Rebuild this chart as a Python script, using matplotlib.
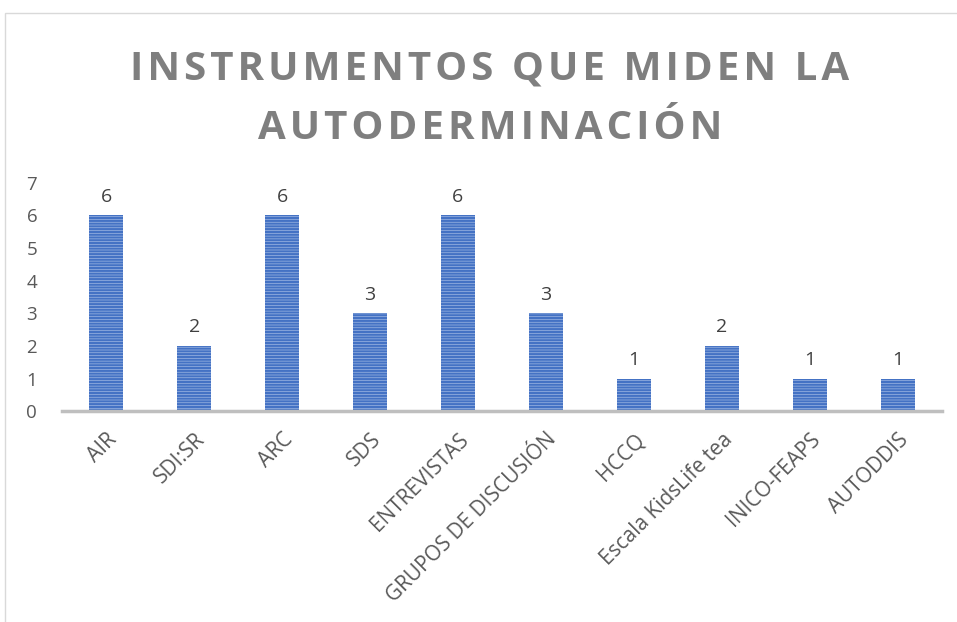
import matplotlib.pyplot as plt
from matplotlib.patches import Rectangle

# Data
categorias = ['AIR', 'SDI:SR', 'ARC', 'SDS', 'ENTREVISTAS', 'GRUPOS DE DISCUSIÓN',
              'HCCQ', 'Escala KidsLife tea', 'INICO-FEAPS', 'AUTODDIS']
valores = [6, 2, 6, 3, 6, 3, 1, 2, 1, 1]
yticks = [0, 1, 2, 3, 4, 5, 6, 7]
titulo = ['INSTRUMENTOS QUE MIDEN LA', 'AUTODERMINACIÓN']

plt.rcParams['font.family'] = ['Open Sans', 'DejaVu Sans']
plt.rcParams['hatch.linewidth'] = 1.6

fig = plt.figure(figsize=(9.57, 6.22), dpi=100)
ax = fig.add_axes([0.065, 0.339, 0.919, 0.367])

# chart border
fig.patches.append(Rectangle((5 / 957, -0.1), 2, (622 - 13) / 622 + 0.1,
                             transform=fig.transFigure, fill=False,
                             edgecolor='#d9d9d9', lw=1))

x = range(len(categorias))
bars = ax.bar(x, valores, width=0.39, color='#b4c7ea', edgecolor='#4472c4',
              hatch='------', linewidth=0)

for xi, v in zip(x, valores):
    ax.text(xi, v + 0.3, str(v), ha='center', va='bottom', fontsize=14, color='#404040')

ax.set_xlim(-0.5, len(categorias) - 0.5)
ax.set_ylim(0, 7)
ax.set_yticks(yticks)
ax.set_yticklabels([str(t) for t in yticks], fontsize=13.5, color='#595959')
ax.set_xticks(list(x))
ax.set_xticklabels(categorias, rotation=45, ha='right', rotation_mode='anchor',
                   fontsize=15, color='#595959')
ax.tick_params(length=0)
ax.tick_params(axis='y', pad=18)
ax.tick_params(axis='x', pad=13)

for s in ['top', 'right', 'left']:
    ax.spines[s].set_visible(False)
ax.spines['bottom'].set_color('#bfbfbf')
ax.spines['bottom'].set_linewidth(2.5)

# letter-spaced title, one line at a time
for linea, yb in zip(titulo, [1 - 80 / 622, 1 - 139 / 622]):
    fig.text(0.512, yb, '\u200a'.join(linea), ha='center', va='baseline',
             fontsize=29, fontweight='bold', color='#7f7f7f')

fig.savefig('out.png', dpi=100)
